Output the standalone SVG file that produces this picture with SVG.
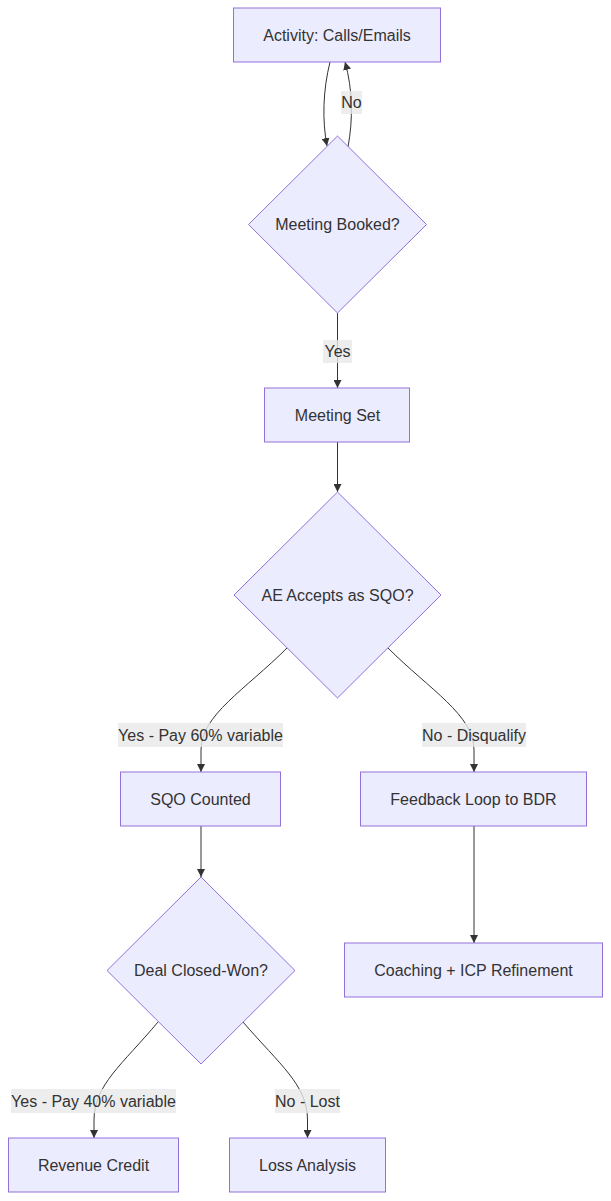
<svg xmlns="http://www.w3.org/2000/svg" width="611" height="1201" viewBox="0 0 611 1201">
<style>
.node rect, .node polygon { fill: #ECECFF; stroke: #9370DB; stroke-width: 1; }
text { font-family: "Liberation Sans", Arial, sans-serif; font-size: 16px; fill: #333333; text-anchor: middle; dominant-baseline: central; }
.edge { fill: none; stroke: #333333; stroke-width: 1; marker-end: url(#arrow); }
.lbl rect { fill: #e8e8e8; fill-opacity: 0.8; }
</style>
<defs>
<marker id="arrow" viewBox="0 0 10 10" refX="10" refY="5" markerWidth="8" markerHeight="8" markerUnits="userSpaceOnUse" orient="auto">
<path d="M0,0 L10,5 L0,10 z" fill="#333333"/>
</marker>
</defs>
<rect width="611" height="1201" fill="#ffffff"/>
<g id="connectors">
<path class="edge" d="M330,62 C323,90 322,120 327,146"/>
<path class="edge" d="M348,147 C353,120 353,90 345,62"/>
<path class="edge" d="M337.5,313 L337.5,388"/>
<path class="edge" d="M337.5,442 L337.5,492"/>
<path class="edge" d="M287,648 C245,690 201,715 201,750 L201,772"/>
<path class="edge" d="M388,648 C430,690 474,715 474,750 L474,772"/>
<path class="edge" d="M201,826 L201,877"/>
<path class="edge" d="M474,826 L474,943"/>
<path class="edge" d="M158,1022 C122,1065 94,1085 94,1120 L94,1138"/>
<path class="edge" d="M243,1022 C280,1065 307.5,1085 307.5,1120 L307.5,1138"/>
</g>
<g id="edge-labels">
<g class="lbl"><rect x="341" y="91" width="21" height="23"/><text x="351.5" y="102.5">No</text></g>
<g class="lbl"><rect x="323" y="340" width="29" height="23"/><text x="337.5" y="351.5">Yes</text></g>
<g class="lbl"><rect x="118" y="723" width="165" height="24"/><text x="200.5" y="735">Yes - Pay 60% variable</text></g>
<g class="lbl"><rect x="422" y="723" width="104" height="24"/><text x="474" y="735">No - Disqualify</text></g>
<g class="lbl"><rect x="11" y="1089" width="165" height="24"/><text x="93.5" y="1101">Yes - Pay 40% variable</text></g>
<g class="lbl"><rect x="275" y="1089" width="65" height="24"/><text x="307.5" y="1101">No - Lost</text></g>
</g>
<g id="activity" class="node"><rect x="233.5" y="8" width="207" height="54"/><text x="337" y="35">Activity: Calls/Emails</text></g>
<g id="meeting-booked" class="node"><polygon points="337.5,136 426.5,224.5 337.5,313 248.5,224.5"/><text x="337.5" y="224.5">Meeting Booked?</text></g>
<g id="meeting-set" class="node"><rect x="264.5" y="388" width="145" height="54"/><text x="337.5" y="415">Meeting Set</text></g>
<g id="ae-accepts" class="node"><polygon points="337.5,492 441,595 337.5,698 234,595"/><text x="337.5" y="595">AE Accepts as SQO?</text></g>
<g id="sqo-counted" class="node"><rect x="120.5" y="772" width="160" height="54"/><text x="200.5" y="799">SQO Counted</text></g>
<g id="feedback" class="node"><rect x="360.5" y="772" width="226" height="54"/><text x="473.5" y="799">Feedback Loop to BDR</text></g>
<g id="deal-closed" class="node"><polygon points="201,877 295,970.5 201,1064 107,970.5"/><text x="201" y="970.5">Deal Closed-Won?</text></g>
<g id="coaching" class="node"><rect x="344.5" y="943" width="258" height="54"/><text x="473.5" y="970">Coaching + ICP Refinement</text></g>
<g id="revenue-credit" class="node"><rect x="8.5" y="1138" width="170" height="54"/><text x="93.5" y="1165">Revenue Credit</text></g>
<g id="loss-analysis" class="node"><rect x="229.5" y="1138" width="156" height="54"/><text x="307.5" y="1165">Loss Analysis</text></g>
</svg>
